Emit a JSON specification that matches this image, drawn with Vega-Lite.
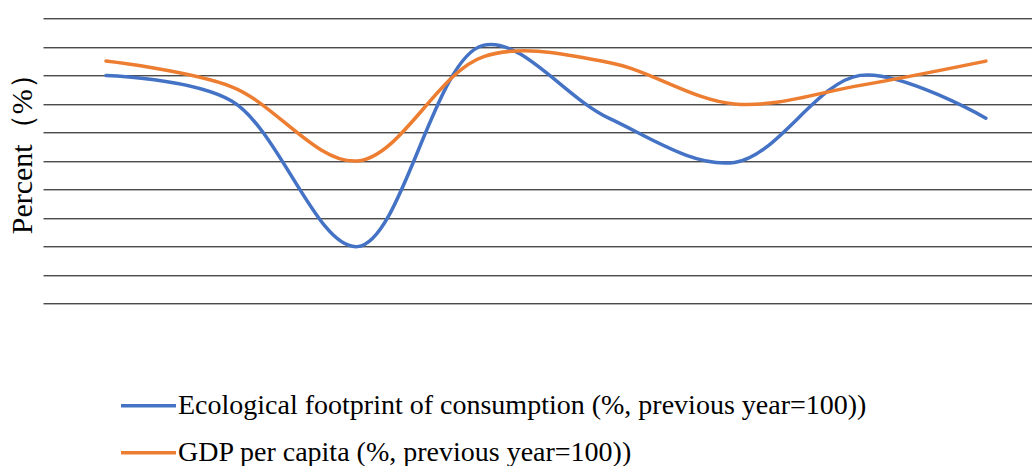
{
  "$schema": "https://vega.github.io/schema/vega-lite/v6.json",
  "width": 989,
  "height": 285.4,
  "autosize": {"type": "none"},
  "padding": {"left": 43, "top": 18.3, "right": 0, "bottom": 162.3},
  "background": "white",
  "config": {
    "view": {"stroke": null},
    "font": "Liberation Serif"
  },
  "data": {
    "values": [
      {"t": 1, "series": "Ecological footprint of consumption (%, previous year=100))", "value": 106.0},
      {"t": 2, "series": "Ecological footprint of consumption (%, previous year=100))", "value": 104.2},
      {"t": 3, "series": "Ecological footprint of consumption (%, previous year=100))", "value": 94.0},
      {"t": 4, "series": "Ecological footprint of consumption (%, previous year=100))", "value": 108.1},
      {"t": 5, "series": "Ecological footprint of consumption (%, previous year=100))", "value": 103.0},
      {"t": 6, "series": "Ecological footprint of consumption (%, previous year=100))", "value": 99.9},
      {"t": 7, "series": "Ecological footprint of consumption (%, previous year=100))", "value": 106.0},
      {"t": 8, "series": "Ecological footprint of consumption (%, previous year=100))", "value": 103.0},
      {"t": 1, "series": "GDP per capita (%, previous year=100))", "value": 107.0},
      {"t": 2, "series": "GDP per capita (%, previous year=100))", "value": 105.2},
      {"t": 3, "series": "GDP per capita (%, previous year=100))", "value": 100.0},
      {"t": 4, "series": "GDP per capita (%, previous year=100))", "value": 107.3},
      {"t": 5, "series": "GDP per capita (%, previous year=100))", "value": 106.9},
      {"t": 6, "series": "GDP per capita (%, previous year=100))", "value": 104.0},
      {"t": 7, "series": "GDP per capita (%, previous year=100))", "value": 105.3},
      {"t": 8, "series": "GDP per capita (%, previous year=100))", "value": 107.0}
    ]
  },
  "mark": {"type": "line", "interpolate": "catmull-rom", "strokeWidth": 3.5, "strokeCap": "round"},
  "encoding": {
    "x": {
      "field": "t",
      "type": "quantitative",
      "scale": {"domain": [0.499, 8.367], "nice": false, "zero": false},
      "axis": null
    },
    "y": {
      "field": "value",
      "type": "quantitative",
      "scale": {"domain": [90, 110], "nice": false, "zero": false},
      "axis": {
        "title": "Percent（%）",
        "titleFont": "Liberation Serif",
        "titleFontSize": 30,
        "titleFontWeight": "normal",
        "titleColor": "#000",
        "titleX": -21,
        "titleY": 128,
        "titleAngle": 270,
        "titleBaseline": "middle",
        "titleAlign": "center",
        "values": [90, 92, 94, 96, 98, 100, 102, 104, 106, 108, 110],
        "labels": false,
        "ticks": false,
        "domain": false,
        "grid": true,
        "gridColor": "#000",
        "gridWidth": 1
      }
    },
    "color": {
      "field": "series",
      "type": "nominal",
      "sort": ["Ecological footprint of consumption (%, previous year=100))", "GDP per capita (%, previous year=100))"],
      "scale": {"range": ["#4472C4", "#ED7D31"]},
      "legend": {
        "title": null,
        "orient": "none",
        "legendX": 76,
        "legendY": 358,
        "direction": "vertical",
        "symbolType": "stroke",
        "symbolSize": 3025,
        "symbolStrokeWidth": 3.5,
        "labelFont": "Liberation Serif",
        "labelFontSize": 28,
        "labelColor": "#000",
        "labelOffset": 0,
        "labelLimit": 1000,
        "rowPadding": 3
      }
    }
  }
}
